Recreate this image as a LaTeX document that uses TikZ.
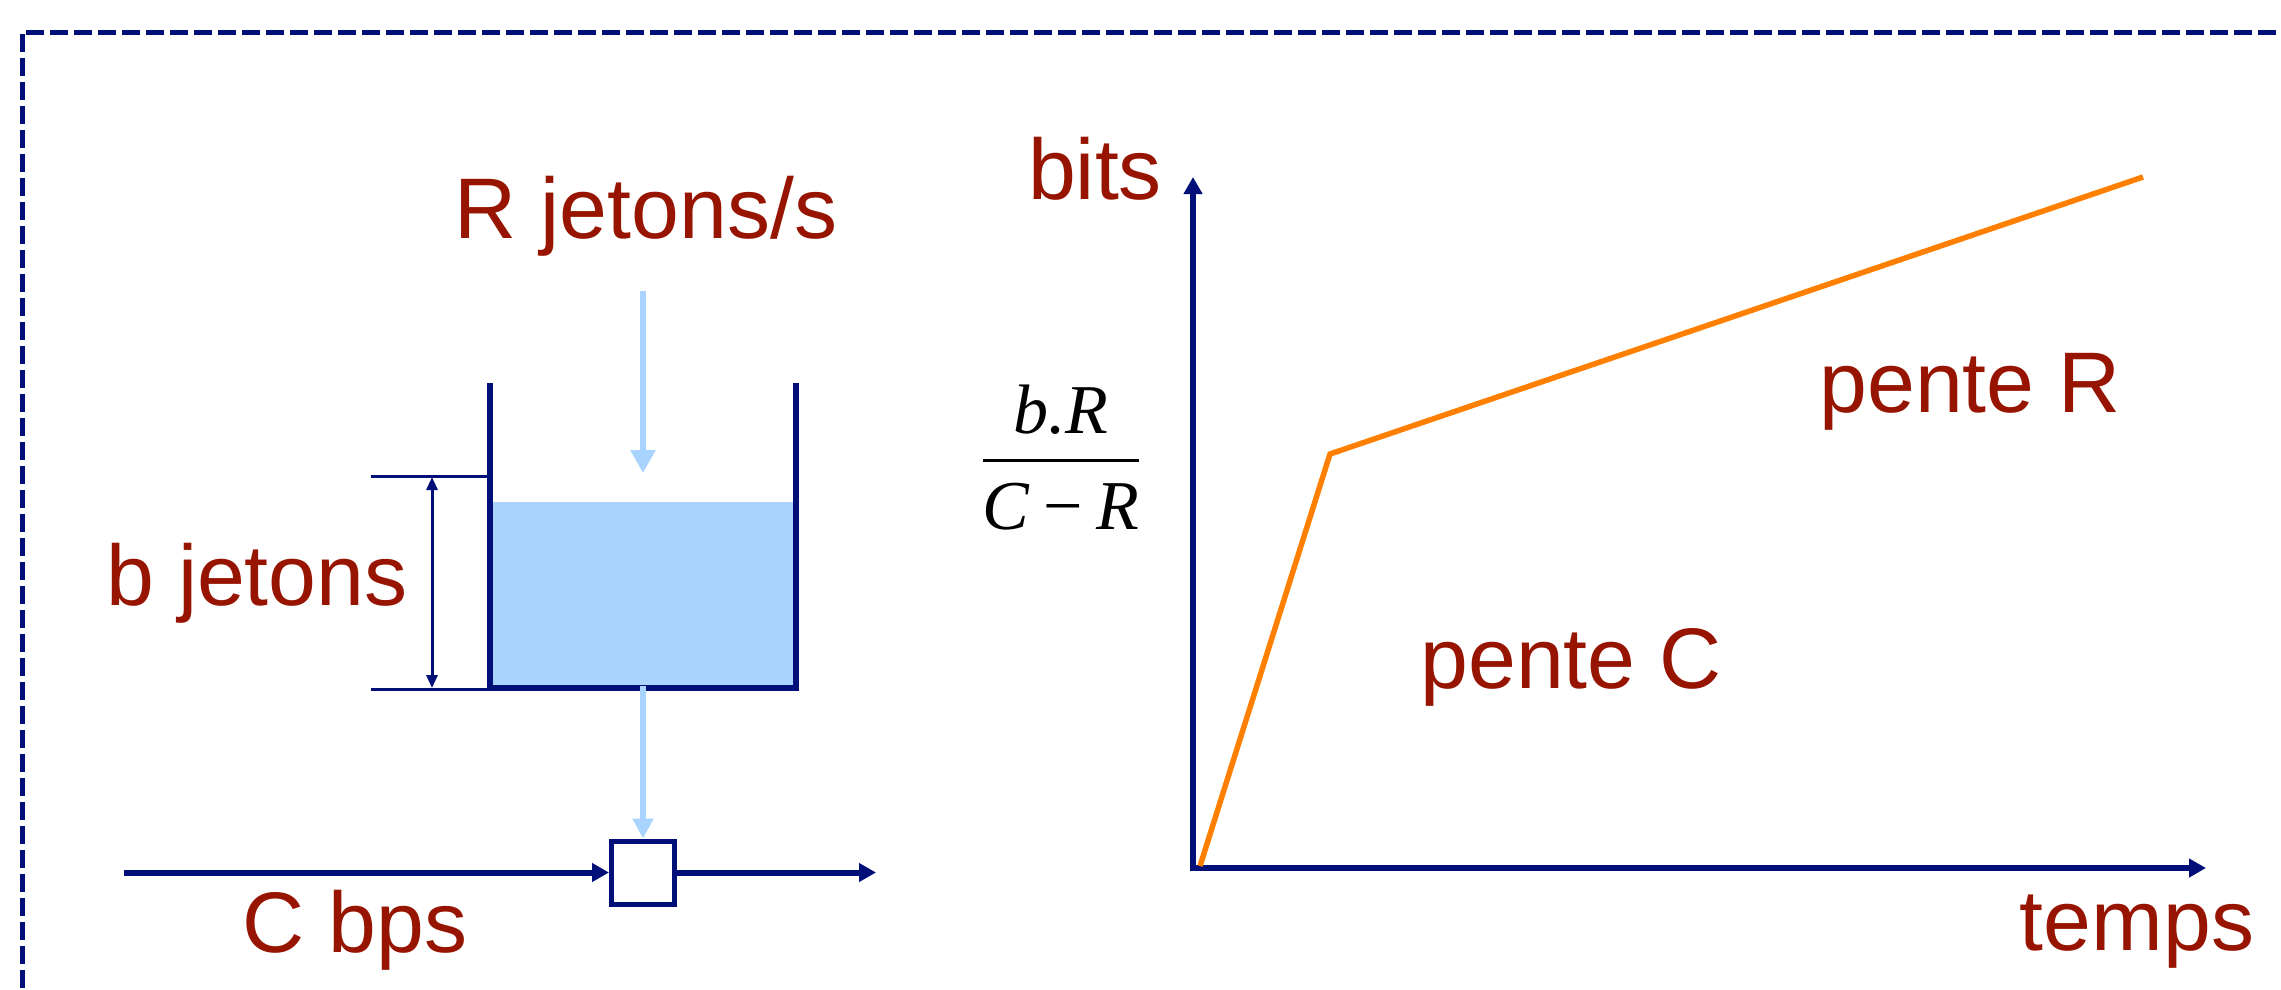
\documentclass[tikz,border=0pt]{standalone}
\usepackage{fontspec}
\setmainfont{Liberation Sans}
\newfontfamily\timesfont{Liberation Serif}
\usetikzlibrary{arrows.meta}
\definecolor{navy}{RGB}{0,16,120}
\definecolor{txtred}{RGB}{150,20,0}
\definecolor{lblue}{RGB}{168,212,255}
\definecolor{orng}{RGB}{255,128,0}
\tikzset{
  lbl/.style={text=txtred, inner sep=0pt, anchor=base, font=\fontsize{86}{90}\selectfont},
  navyline/.style={draw=navy, line width=6pt},
  navyarrow/.style={navyline, -{Triangle[length=17pt,width=18pt]}},
  thinline/.style={draw=navy, line width=3pt},
  dimarrow/.style={thinline, {Triangle[length=13pt,width=11pt]}-{Triangle[length=13pt,width=11pt]}},
  feed/.style={draw=lblue, line width=6pt, -{Triangle[length=23pt,width=24pt]}},
  curve/.style={draw=orng, line width=5.5pt, line join=miter},
  fracfont/.style={inner sep=0pt, anchor=base, font=\timesfont\itshape\fontsize{70}{72}\selectfont},
}
\begin{document}
\begin{tikzpicture}[x=1pt,y=-1pt]
\useasboundingbox (0,0) rectangle (2281,989);
% dashed frame
\draw[draw=navy, line width=5pt, dash pattern=on 18pt off 6pt] (2300,32) -- (22,32) -- (22,1010);

% ---------- bucket ----------
\fill[lblue] (490,502) rectangle (796,688);
\coordinate (wallTL) at (490,383);
\coordinate (wallBL) at (490,688);
\coordinate (wallBR) at (796,688);
\coordinate (wallTR) at (796,383);
\draw[navyline, line join=miter] (wallTL) -- (wallBL) -- (wallBR) -- (wallTR);

% b jetons dimension
\coordinate (tickTop) at (371,476);
\coordinate (tickTopE) at (490,476);
\coordinate (tickBot) at (371,689);
\coordinate (tickBotE) at (490,689);
\draw[thinline] (tickTop) -- (tickTopE);
\draw[thinline] (tickBot) -- (tickBotE);
\coordinate (dimTop) at (432,477);
\coordinate (dimBot) at (432,688);
\draw[dimarrow] (dimTop) -- (dimBot);
\node[lbl] (bjetons) at (257,605) {b jetons};

% incoming tokens
\node[lbl] (rjetons) at (646,238) {R jetons/s};
\coordinate (feedStart) at (643,291);
\coordinate (feedEnd) at (643,473);
\draw[feed] (feedStart) -- (feedEnd);

% regulator box and C bps line
\node[draw=navy, line width=5pt, fill=white, minimum width=63pt, minimum height=63pt, inner sep=0pt] (box) at (643,872.5) {};
\coordinate (outStart) at (643,686);
\draw[feed, -{Triangle[length=20pt,width=20pt]}] (outStart) -- (box.north);
\coordinate (lineStart) at (124,872.5);
\coordinate (lineEnd) at (876,872.5);
\draw[navyarrow] (lineStart) -- (box.west);
\draw[navyarrow] (box.east) -- (lineEnd);
\node[lbl] (cbps) at (355,952) {C bps};

% ---------- graph ----------
\coordinate (O) at (1193,868);
\coordinate (ytip) at (1193,177);
\coordinate (xtip) at (2206,868);
\draw[navyarrow] ([yshift=3pt]O) -- (ytip);
\draw[navyarrow] ([xshift=-3pt]O) -- (xtip);
\node[lbl] (bits) at (1095,199) {bits};
\node[lbl] (temps) at (2137,950) {temps};

\coordinate (c0) at (1200,866);
\coordinate (c1) at (1330,454);
\coordinate (c2) at (2143,177);
\draw[curve] (c0) -- (c1) -- (c2);

\node[lbl] (penteR) at (1970,412) {pente R};
\node[lbl] (penteC) at (1571,688) {pente C};

% fraction b.R / (C-R)
\coordinate (fracmid) at (1061,460);
\node[fracfont] (num) at (1061,433) {b.R};
\node[fracfont] (den) at (1061,529) {C\hspace{0.2em}{\upshape −}\hspace{0.2em}R};
\draw[line width=3pt] ([xshift=-78pt]fracmid) -- ([xshift=78pt]fracmid);
\end{tikzpicture}
\end{document}
